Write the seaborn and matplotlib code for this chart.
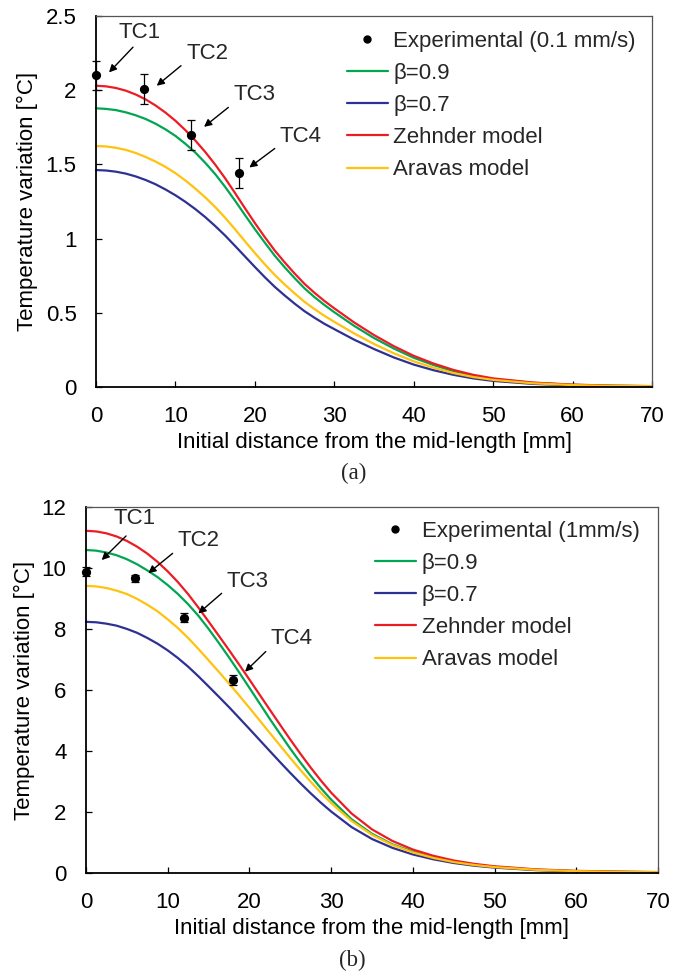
import matplotlib
matplotlib.use("Agg")
import matplotlib.pyplot as plt
from matplotlib.lines import Line2D
import numpy as np
import pandas as pd
import seaborn as sns

# ---- data -------------------------------------------------------------
x_model = [0, 1.25, 2.5, 3.75, 5, 6.25, 7.5, 8.75, 10, 11.25, 12.5, 13.75, 15,
           16.25, 17.5, 18.75, 20, 21.25, 22.5, 23.75, 25, 26.25, 27.5, 28.75, 30,
           32.5, 35, 37.5, 40, 42.5, 45, 47.5, 50, 55, 60, 65, 70]

# (a) 0.1 mm/s
beta09_a = [1.878, 1.874, 1.866, 1.851, 1.831, 1.806, 1.774, 1.736, 1.692, 1.639,
            1.580, 1.511, 1.435, 1.349, 1.256, 1.159, 1.064, 0.973, 0.885, 0.807,
            0.734, 0.665, 0.606, 0.553, 0.504, 0.412, 0.330, 0.259, 0.197, 0.148,
            0.107, 0.076, 0.054, 0.028, 0.015, 0.0085, 0.0056]
beta07_a = [1.462, 1.459, 1.451, 1.438, 1.419, 1.395, 1.366, 1.331, 1.292, 1.248,
            1.199, 1.145, 1.085, 1.021, 0.951, 0.880, 0.809, 0.740, 0.675, 0.617,
            0.562, 0.511, 0.467, 0.426, 0.390, 0.319, 0.256, 0.199, 0.151, 0.113,
            0.082, 0.058, 0.041, 0.021, 0.011, 0.006, 0.004]
zehnder_a = [2.030, 2.026, 2.015, 1.997, 1.971, 1.938, 1.897, 1.849, 1.794, 1.731,
             1.661, 1.584, 1.499, 1.407, 1.307, 1.205, 1.105, 1.010, 0.920, 0.840,
             0.765, 0.695, 0.635, 0.580, 0.530, 0.435, 0.350, 0.275, 0.210, 0.158,
             0.115, 0.082, 0.058, 0.030, 0.016, 0.009, 0.006]
aravas_a = [1.624, 1.621, 1.612, 1.598, 1.577, 1.550, 1.519, 1.483, 1.441, 1.392,
            1.337, 1.278, 1.213, 1.141, 1.063, 0.982, 0.903, 0.827, 0.755, 0.691,
            0.631, 0.574, 0.525, 0.480, 0.439, 0.361, 0.290, 0.227, 0.173, 0.130,
            0.094, 0.067, 0.048, 0.025, 0.013, 0.0075, 0.005]

# (b) 1 mm/s
beta09_b = [10.59, 10.569, 10.507, 10.418, 10.288, 10.122, 9.922, 9.702, 9.44, 9.147,
            8.812, 8.435, 8.005, 7.545, 7.07, 6.575, 6.07, 5.56, 5.05, 4.56,
            4.075, 3.62, 3.185, 2.78, 2.405, 1.76, 1.285, 0.94, 0.70, 0.51,
            0.37, 0.27, 0.198, 0.108, 0.062, 0.039, 0.027]
beta07_b = [8.235, 8.22, 8.175, 8.109, 8.003, 7.875, 7.707, 7.519, 7.299, 7.048,
            6.765, 6.45, 6.118, 5.781, 5.439, 5.082, 4.723, 4.36, 3.996, 3.635,
            3.281, 2.94, 2.612, 2.303, 2.016, 1.505, 1.115, 0.824, 0.608, 0.449,
            0.328, 0.24, 0.176, 0.095, 0.055, 0.034, 0.023]
zehnder_b = [11.22, 11.199, 11.137, 11.033, 10.888, 10.70, 10.472, 10.202, 9.89, 9.537,
             9.142, 8.705, 8.245, 7.78, 7.31, 6.83, 6.34, 5.845, 5.35, 4.86,
             4.375, 3.905, 3.455, 3.03, 2.635, 1.95, 1.43, 1.05, 0.77, 0.565,
             0.41, 0.30, 0.22, 0.12, 0.07, 0.045, 0.03]
aravas_b = [9.414, 9.396, 9.344, 9.257, 9.146, 8.988, 8.796, 8.58, 8.317, 8.03,
            7.707, 7.347, 6.975, 6.597, 6.214, 5.819, 5.414, 5.003, 4.59, 4.18,
            3.771, 3.374, 2.992, 2.63, 2.292, 1.706, 1.251, 0.919, 0.674, 0.494,
            0.359, 0.263, 0.193, 0.105, 0.061, 0.038, 0.026]

exp_x = [0, 6, 12, 18]
exp_a = [2.10, 2.01, 1.70, 1.44]
err_a = [0.10, 0.10, 0.10, 0.10]
exp_b = [9.88, 9.66, 8.37, 6.33]
err_b = [0.15, 0.12, 0.15, 0.15]

tc_labels = ["TC1", "TC2", "TC3", "TC4"]
model_names = ["β=0.9", "β=0.7", "Zehnder model", "Aravas model"]
model_colors = ["#00A651", "#2E3192", "#ED1C24", "#FFC20E"]

# ---- style ------------------------------------------------------------
sns.set_theme(style="white")
plt.rcParams["font.family"] = ["Liberation Sans", "DejaVu Sans"]
FS = 16

fig = plt.figure(figsize=(6.86, 9.77), dpi=100)
ax_a = fig.add_axes([96 / 686, 1 - 387 / 977, 556 / 686, 371 / 977])
ax_b = fig.add_axes([86 / 686, 1 - 873 / 977, 572 / 686, 366 / 977])


def draw_panel(ax, curves, exp_y, exp_err, ymax, ystep, ylabels, exp_label,
               ann_text, ann_tail, ann_tip, leg_anchor, ylab_x):
    rows = []
    for name, vals in zip(model_names, curves):
        for xv, yv in zip(x_model, vals):
            rows.append({"x": xv, "T": yv, "model": name})
    df = pd.DataFrame(rows)
    sns.lineplot(data=df, x="x", y="T", hue="model", hue_order=model_names,
                 palette=model_colors, linewidth=1.6, legend=False, ax=ax,
                 clip_on=False)

    ax.errorbar(exp_x, exp_y, yerr=exp_err, fmt="none", ecolor="black",
                elinewidth=0.9, capsize=3.2, capthick=0.9, clip_on=False, zorder=5)
    sns.scatterplot(x=exp_x, y=exp_y, color="black", s=44, edgecolor="black",
                    linewidth=0, ax=ax, zorder=6, clip_on=False)

    for lab, tpos, tail, tip in zip(tc_labels, ann_text, ann_tail, ann_tip):
        ax.text(tpos[0], tpos[1], lab, fontsize=FS, ha="center", va="center")
        ax.annotate("", xy=tip, xytext=tail,
                    arrowprops=dict(arrowstyle="-|>", color="black", lw=1.0,
                                    mutation_scale=11, shrinkA=0, shrinkB=0))

    ax.set_xlim(0, 70)
    ax.set_ylim(0, ymax)
    ax.set_xticks(np.arange(0, 71, 10))
    ax.set_yticks(np.arange(0, ymax + 1e-9, ystep))
    ax.set_yticklabels(ylabels)
    ax.tick_params(axis="both", direction="in", length=4.5, width=0.9,
                   labelsize=FS, colors="black", pad=14, left=True, bottom=True)
    for side in ("left", "bottom"):
        ax.spines[side].set_color("black")
        ax.spines[side].set_linewidth(1.3)
    for side in ("top", "right"):
        ax.spines[side].set_color("#555555")
        ax.spines[side].set_linewidth(0.9)

    ax.set_xlabel("Initial distance from the mid-length [mm]", fontsize=FS,
                  color="black", labelpad=3)
    ax.set_ylabel("Temperature variation [°C]", fontsize=FS, color="black")
    ax.yaxis.set_label_coords(ylab_x, 0.5)

    handles = [Line2D([], [], marker="o", color="black", linestyle="none",
                      markersize=5)]
    handles += [Line2D([], [], color=c, lw=1.6) for c in model_colors]
    ax.legend(handles, [exp_label] + model_names, loc="upper left",
              bbox_to_anchor=leg_anchor, frameon=False, fontsize=FS,
              handlelength=1.85, handletextpad=0.25, labelspacing=0.5,
              borderpad=0, borderaxespad=0)


draw_panel(ax_a, [beta09_a, beta07_a, zehnder_a, aravas_a], exp_a, err_a,
           2.5, 0.5, ["0", "0.5", "1", "1.5", "2", "2.5"],
           "Experimental (0.1 mm/s)",
           ann_text=[(5.5, 2.39), (14.0, 2.25), (20.0, 1.97), (25.7, 1.69)],
           ann_tail=[(4.66, 2.29), (10.7, 2.165), (16.66, 1.884), (22.5, 1.607)],
           ann_tip=[(1.64, 2.12), (7.64, 2.03), (13.6, 1.753), (19.3, 1.479)],
           leg_anchor=(0.451, 0.960), ylab_x=-0.104)

draw_panel(ax_b, [beta09_b, beta07_b, zehnder_b, aravas_b], exp_b, err_b,
           12, 2, ["0", "2", "4", "6", "8", "10", "12"],
           "Experimental (1mm/s)",
           ann_text=[(5.9, 11.62), (13.8, 10.89), (19.8, 9.56), (25.2, 7.69)],
           ann_tail=[(4.9, 11.05), (10.6, 10.48), (16.6, 9.17), (22.0, 7.26)],
           ann_tip=[(1.92, 10.26), (7.63, 9.83), (13.75, 8.51), (19.46, 6.60)],
           leg_anchor=(0.505, 0.962), ylab_x=-0.089)

fig.text(354 / 686, 1 - 473 / 977, "(a)", fontsize=16.5, ha="center", va="center",
         family=["Liberation Serif", "DejaVu Serif"])
fig.text(352 / 686, 1 - 960 / 977, "(b)", fontsize=16.5, ha="center", va="center",
         family=["Liberation Serif", "DejaVu Serif"])

fig.savefig("out.png", dpi=100)
